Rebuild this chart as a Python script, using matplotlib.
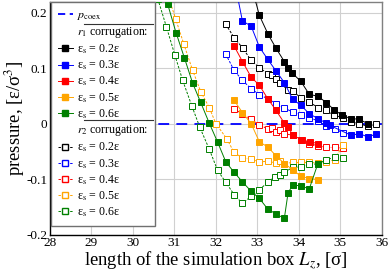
import matplotlib
matplotlib.use("Agg")
import matplotlib.pyplot as plt
from matplotlib.lines import Line2D

plt.rcParams['font.family'] = ['Liberation Serif', 'DejaVu Serif']
plt.rcParams['mathtext.fontset'] = 'stix'

# --- datos ---
eps_labels = ['0.2', '0.3', '0.4', '0.5', '0.6']
colores = ['#000000', '#0000ff', '#ff0000', '#ffa500', '#008000']
p_coex = 0.0

# r1 (marcadores rellenos)
r1_x = [
    [32.85, 33.05, 33.26, 33.45, 33.65, 33.75, 33.83, 34.05, 34.25, 34.47, 34.66, 34.85, 35.05, 35.25, 35.45, 35.66],
    [32.44, 32.64, 32.85, 33.05, 33.25, 33.45, 33.65, 33.85, 34.05, 34.25, 34.46, 34.66, 34.74, 35.26, 35.46, 35.66, 35.86],
    [32.44, 32.64, 32.85, 33.05, 33.25, 33.45, 33.65, 33.75, 33.85, 34.07, 34.27, 34.47],
    [32.44, 32.64, 32.85, 33.05, 33.25, 33.45, 33.65, 33.85, 34.05, 34.25, 34.46],
    [30.64, 30.84, 31.04, 31.24, 31.44, 31.63, 31.84, 32.04, 32.24, 32.43, 32.64, 32.85, 33.05, 33.25, 33.45,
     33.65, 33.74, 33.85, 34.05, 34.25, 34.46],
]
r1_y = [
    [0.25, 0.195, 0.161, 0.136, 0.112, 0.101, 0.092, 0.076, 0.053, 0.049, 0.038, 0.025, 0.015, 0.009, 0.008, 0.000],
    [0.26, 0.185, 0.176, 0.138, 0.116, 0.095, 0.074, 0.044, 0.033, 0.018, 0.009, 0.001, -0.003, -0.021, -0.018, -0.024, -0.019],
    [0.140, 0.112, 0.084, 0.069, 0.045, 0.024, 0.001, -0.006, -0.021, -0.029, -0.033, -0.036],
    [0.042, 0.020, 0.000, -0.033, -0.042, -0.058, -0.072, -0.083, -0.095, -0.099, -0.101],
    [0.26, 0.215, 0.164, 0.119, 0.073, 0.039, 0.001, -0.033, -0.069, -0.087, -0.105, -0.122, -0.135, -0.154, -0.163,
     -0.171, -0.125, -0.111, -0.112, -0.118, -0.072],
]

# r2 (marcadores vacios)
r2_x = [
    [32.24, 32.44, 32.65, 32.85, 33.05, 33.25, 33.35, 33.45, 33.55, 33.75, 33.85, 34.05, 34.25, 34.46, 34.66,
     34.85, 35.06, 35.26, 35.46, 35.66, 35.86],
    [32.24, 32.44, 32.64, 32.85, 33.05, 33.25, 33.45, 33.65, 33.85, 34.05, 34.25, 34.46, 34.66, 34.86, 35.06],
    [32.44, 32.64, 32.85, 33.05, 33.25, 33.35, 33.45, 33.55, 33.65, 33.85, 34.05, 34.25, 34.46, 34.66, 34.86, 35.06],
    [30.83, 31.03, 31.23, 31.44, 31.64, 31.84, 32.0, 32.26, 32.44, 32.64, 32.85, 33.05, 33.25, 33.45, 33.55,
     33.65, 33.85, 34.05, 34.25, 34.46, 34.66, 34.86, 35.06],
    [30.6, 30.81, 31.01, 31.20, 31.42, 31.61, 31.84, 32.04, 32.24, 32.44, 32.64, 32.85, 33.05, 33.25, 33.42,
     33.55, 33.65, 33.85, 34.05, 34.25, 34.46, 34.66, 34.86, 35.06],
]
r2_y = [
    [0.179, 0.155, 0.136, 0.114, 0.101, 0.090, 0.087, 0.080, 0.073, 0.060, 0.058, 0.047, 0.039, 0.029, 0.024,
     0.015, 0.011, 0.003, 0.000, -0.005, -0.001],
    [0.125, 0.096, 0.078, 0.063, 0.052, 0.045, 0.036, 0.028, 0.021, 0.015, 0.011, 0.005, -0.005, -0.009, -0.017],
    [0.027, 0.017, 0.008, -0.003, -0.009, -0.008, -0.015, -0.012, -0.018, -0.021, -0.029, -0.036, -0.040, -0.043, -0.043, -0.044],
    [0.235, 0.189, 0.143, 0.096, 0.057, 0.029, 0.000, -0.027, -0.052, -0.062, -0.064, -0.069, -0.068, -0.071, -0.068,
     -0.072, -0.070, -0.070, -0.070, -0.071, -0.069, -0.065, -0.039],
    [0.225, 0.174, 0.124, 0.078, 0.032, -0.006, -0.046, -0.084, -0.106, -0.128, -0.144, -0.131, -0.119, -0.106, -0.096,
     -0.092, -0.088, -0.079, -0.078, -0.073, -0.073, -0.065, -0.061, -0.062],
]

fig = plt.figure(figsize=(3.9, 2.73), dpi=100)
ax = fig.add_axes([0.128, 0.141, 0.851, 0.853])

ax.axhline(p_coex, color='#0000ff', ls=(0, (6, 4)), lw=1.3, zorder=2)

ms = 4.6
for i in range(5):
    ax.plot(r2_x[i], r2_y[i], '--s', color=colores[i], lw=0.7, ms=ms, mfc='white',
            mec=colores[i], mew=0.7, dashes=(2.5, 1.5), zorder=3)
for i in range(5):
    ax.plot(r1_x[i], r1_y[i], '-s', color=colores[i], lw=0.7, ms=ms, mfc=colores[i],
            mec=colores[i], mew=0.7, zorder=4)

ax.set_xlim(28, 36)
ax.set_ylim(-0.2, 0.22)
ax.set_xticks([28, 29, 30, 31, 32, 33, 34, 35, 36])
ax.set_yticks([-0.2, -0.1, 0, 0.1, 0.2])
ax.set_yticklabels(['-0.2', '-0.1', '0', '0.1', '0.2'])
ax.tick_params(labelsize=9.5, length=0, pad=2)
ax.grid(color='#d0d0d0', lw=0.8)
ax.set_axisbelow(True)
for s in ['top', 'right']:
    ax.spines[s].set_color('#808080')
for s in ax.spines.values():
    s.set_linewidth(1.0)

ax.set_xlabel('length of the simulation box $L_z$, [σ]', fontsize=13.4, labelpad=0)
ax.set_ylabel('pressure, [ε/σ$^3$]', fontsize=13.4)
ax.yaxis.set_label_coords(-0.069, 0.5)

# --- leyenda ---
blank = Line2D([], [], color='none')
handles = [Line2D([], [], color='#0000ff', ls=(0, (4, 2.5)), lw=1.3), blank]
labels = [r'$p_{\rm coex}$', r'$r_1$ corrugation:']
for i in range(5):
    handles.append(Line2D([], [], color=colores[i], marker='s', ms=4.3, mfc=colores[i], lw=0.7))
    labels.append('ε$_{\\rm s}$ = ' + eps_labels[i] + 'ε')
handles.append(blank)
labels.append(r'$r_2$ corrugation:')
for i in range(5):
    handles.append(Line2D([], [], color=colores[i], marker='s', ms=4.3, mfc='white', lw=0.7,
                          ls='--', dashes=(2.5, 1.5)))
    labels.append('ε$_{\\rm s}$ = ' + eps_labels[i] + 'ε')

leg = ax.legend(handles, labels, loc='upper left', fontsize=8.6, handlelength=1.3,
                handletextpad=0.3, labelspacing=0.22, borderaxespad=0.05, borderpad=0.6,
                fancybox=False, framealpha=1, edgecolor='#707070')
leg.get_frame().set_linewidth(1.0)

# lineas separadoras de la leyenda
for yy in [0.905, 0.49]:
    ax.plot([0.102, 0.31], [yy, yy], color='#333333', lw=0.8, transform=ax.transAxes,
            zorder=10, clip_on=False)

fig.savefig('out.png', dpi=100)
